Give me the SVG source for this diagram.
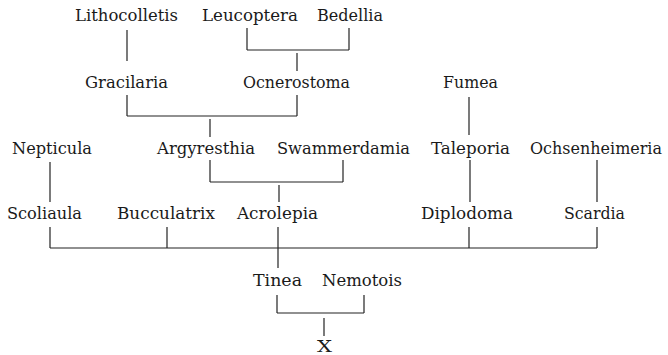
<svg xmlns="http://www.w3.org/2000/svg" width="668" height="355" viewBox="0 0 668 355">
<style>
text{font-family:"DejaVu Serif","Liberation Serif",serif;font-size:16px;fill:#1a1a1a;text-anchor:middle}
.c line{stroke:#222;stroke-width:1.2;fill:none}
</style>
<rect width="668" height="355" fill="#fff"/>
<g class="c" id="connectors">
<line x1="127" y1="30" x2="127" y2="61"/>
<line x1="247" y1="28" x2="247" y2="50"/>
<line x1="349" y1="28" x2="349" y2="50"/>
<line x1="247" y1="50" x2="349" y2="50"/>
<line x1="297" y1="53" x2="297" y2="71"/>
<line x1="127" y1="95" x2="127" y2="116"/>
<line x1="297" y1="95" x2="297" y2="116"/>
<line x1="127" y1="116" x2="297" y2="116"/>
<line x1="210" y1="119" x2="210" y2="137"/>
<line x1="469" y1="97" x2="469" y2="135"/>
<line x1="50" y1="162" x2="50" y2="202"/>
<line x1="210" y1="160" x2="210" y2="182"/>
<line x1="343" y1="160" x2="343" y2="182"/>
<line x1="210" y1="182" x2="343" y2="182"/>
<line x1="279" y1="185" x2="279" y2="202"/>
<line x1="470" y1="160" x2="470" y2="202"/>
<line x1="597" y1="160" x2="597" y2="202"/>
<line x1="50" y1="227" x2="50" y2="248"/>
<line x1="167" y1="227" x2="167" y2="248"/>
<line x1="278" y1="227" x2="278" y2="268"/>
<line x1="469" y1="227" x2="469" y2="248"/>
<line x1="597" y1="227" x2="597" y2="248"/>
<line x1="50" y1="248" x2="597" y2="248"/>
<line x1="277" y1="295" x2="277" y2="313"/>
<line x1="364" y1="295" x2="364" y2="313"/>
<line x1="277" y1="313" x2="364" y2="313"/>
<line x1="324" y1="318" x2="324" y2="336"/>
</g>
<g id="lithocolletis"><text x="126.5" y="21" textLength="103" lengthAdjust="spacingAndGlyphs">Lithocolletis</text></g>
<g id="leucoptera"><text x="250" y="21" textLength="96" lengthAdjust="spacingAndGlyphs">Leucoptera</text></g>
<g id="bedellia"><text x="350" y="21" textLength="66" lengthAdjust="spacingAndGlyphs">Bedellia</text></g>
<g id="gracilaria"><text x="126.5" y="88" textLength="83" lengthAdjust="spacingAndGlyphs">Gracilaria</text></g>
<g id="ocnerostoma"><text x="296.5" y="88" textLength="107" lengthAdjust="spacingAndGlyphs">Ocnerostoma</text></g>
<g id="fumea"><text x="470.5" y="88" textLength="55" lengthAdjust="spacingAndGlyphs">Fumea</text></g>
<g id="nepticula"><text x="52" y="154" textLength="80" lengthAdjust="spacingAndGlyphs">Nepticula</text></g>
<g id="argyresthia"><text x="206" y="154" textLength="98" lengthAdjust="spacingAndGlyphs">Argyresthia</text></g>
<g id="swammerdamia"><text x="343.5" y="154" textLength="133" lengthAdjust="spacingAndGlyphs">Swammerdamia</text></g>
<g id="taleporia"><text x="470.5" y="154" textLength="79" lengthAdjust="spacingAndGlyphs">Taleporia</text></g>
<g id="ochsenheimeria"><text x="596" y="154" textLength="132" lengthAdjust="spacingAndGlyphs">Ochsenheimeria</text></g>
<g id="scoliaula"><text x="44.5" y="219" textLength="75" lengthAdjust="spacingAndGlyphs">Scoliaula</text></g>
<g id="bucculatrix"><text x="166" y="219" textLength="98" lengthAdjust="spacingAndGlyphs">Bucculatrix</text></g>
<g id="acrolepia"><text x="277.5" y="219" textLength="81" lengthAdjust="spacingAndGlyphs">Acrolepia</text></g>
<g id="diplodoma"><text x="467" y="219" textLength="92" lengthAdjust="spacingAndGlyphs">Diplodoma</text></g>
<g id="scardia"><text x="594.5" y="219" textLength="61" lengthAdjust="spacingAndGlyphs">Scardia</text></g>
<g id="tinea"><text x="277.5" y="286" textLength="49" lengthAdjust="spacingAndGlyphs">Tinea</text></g>
<g id="nemotois"><text x="362" y="286" textLength="80" lengthAdjust="spacingAndGlyphs">Nemotois</text></g>
<g id="x"><text x="324.5" y="352" textLength="15" lengthAdjust="spacingAndGlyphs">X</text></g>
</svg>
